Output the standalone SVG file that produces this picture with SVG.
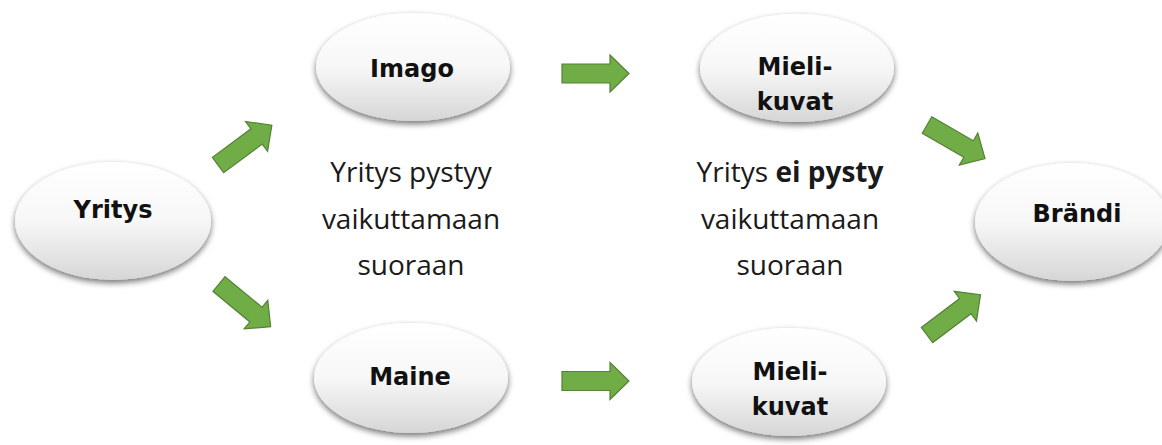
<svg xmlns="http://www.w3.org/2000/svg" width="1162" height="445" viewBox="0 0 1162 445">
<style>
.node ellipse{fill:url(#eg);filter:url(#sh);}
.lbl{font-family:"DejaVu Sans","Liberation Sans",sans-serif;font-weight:bold;font-size:24px;fill:#111;text-anchor:middle;}
.mid{font-family:"Open Sans","Liberation Sans",sans-serif;font-size:28px;fill:#1a1a1a;text-anchor:middle;}
.arrow{fill:#70ad47;stroke:#548235;stroke-width:1.2;stroke-linejoin:miter;}
</style>
<defs>
<linearGradient id="eg" x1="0" y1="0" x2="0" y2="1">
<stop offset="0" stop-color="#ffffff"/>
<stop offset="0.5" stop-color="#f7f7f7"/>
<stop offset="1" stop-color="#d6d6d6"/>
</linearGradient>
<filter id="sh" x="-20%" y="-20%" width="140%" height="150%">
<feGaussianBlur in="SourceAlpha" stdDeviation="3"/>
<feOffset dx="0" dy="3" result="b"/>
<feComponentTransfer><feFuncA type="linear" slope="0.55"/></feComponentTransfer>
<feMerge><feMergeNode/><feMergeNode in="SourceGraphic"/></feMerge>
</filter>
<path id="arr" d="M0,-9.5 L48,-9.5 L48,-18.5 L67,0 L48,18.5 L48,9.5 L0,9.5 Z"/>
</defs>
<rect width="1162" height="445" fill="#ffffff"/>
<g id="connectors">
<use href="#arr" class="arrow" transform="translate(218,165) rotate(-36.5)"/>
<use href="#arr" class="arrow" transform="translate(219,284) rotate(39.6)"/>
<use href="#arr" class="arrow" transform="translate(562,73.5)"/>
<use href="#arr" class="arrow" transform="translate(562,381)"/>
<use href="#arr" class="arrow" transform="translate(927,125) rotate(30)"/>
<use href="#arr" class="arrow" transform="translate(927,335) rotate(-37)"/>
</g>
<g id="yritys" class="node">
<ellipse cx="113" cy="221" rx="98" ry="59"/>
<text class="lbl" x="113" y="218">Yritys</text>
</g>
<g id="imago" class="node">
<ellipse cx="413" cy="67" rx="97" ry="54"/>
<text class="lbl" x="412" y="77">Imago</text>
</g>
<g id="maine" class="node">
<ellipse cx="411" cy="378" rx="97" ry="55"/>
<text class="lbl" x="410" y="385">Maine</text>
</g>
<g id="mielikuvat1" class="node">
<ellipse cx="797" cy="68" rx="97" ry="54"/>
<text class="lbl" x="795" y="75">Mieli-</text>
<text class="lbl" x="795" y="110">kuvat</text>
</g>
<g id="mielikuvat2" class="node">
<ellipse cx="789" cy="382" rx="97" ry="54"/>
<text class="lbl" x="790" y="380">Mieli-</text>
<text class="lbl" x="790" y="415">kuvat</text>
</g>
<g id="brandi" class="node">
<ellipse cx="1072" cy="222" rx="97" ry="59"/>
<text class="lbl" x="1077" y="222">Brändi</text>
</g>
<g id="text-left">
<text class="mid" x="411" y="182">Yritys pystyy</text>
<text class="mid" x="411" y="229">vaikuttamaan</text>
<text class="mid" x="411" y="275">suoraan</text>
</g>
<g id="text-right">
<text class="mid" x="790" y="182">Yritys <tspan font-weight="bold">ei pysty</tspan></text>
<text class="mid" x="790" y="229">vaikuttamaan</text>
<text class="mid" x="790" y="275">suoraan</text>
</g>
</svg>
